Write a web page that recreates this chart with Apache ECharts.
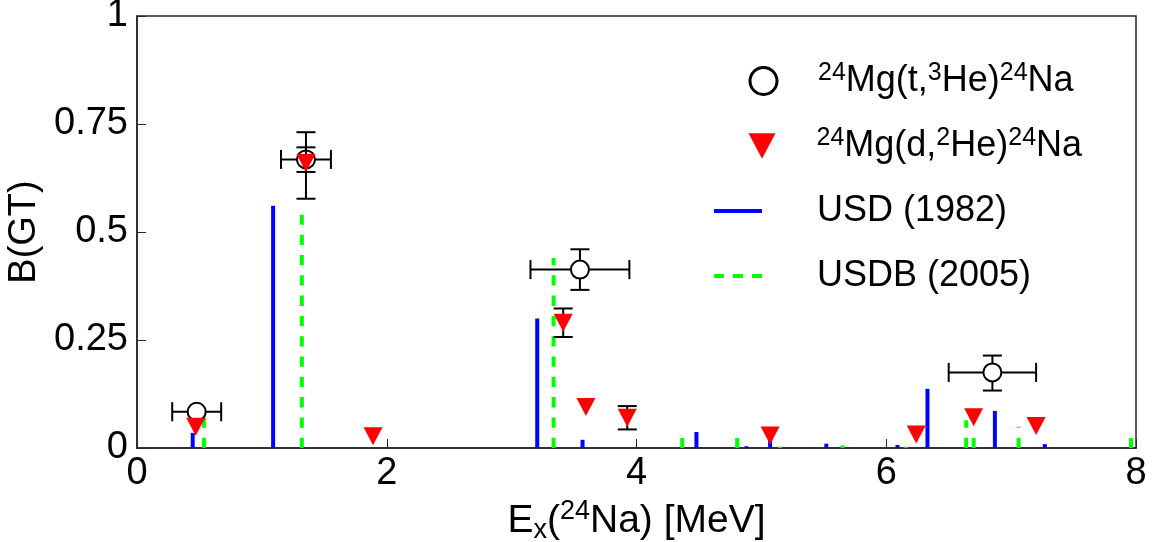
<!DOCTYPE html>
<html>
<head>
<meta charset="utf-8">
<script src="https://cdn.jsdelivr.net/npm/echarts@6/dist/echarts.min.js"></script>
<style>
  html, body { margin: 0; padding: 0; background: #fff; }
  #chart { width: 1162px; height: 542px; }
</style>
</head>
<body>
<div id="chart"></div>
<script>
// USD (1982) shell-model B(GT) sticks
const usdE = [0.446, 1.09, 3.205, 3.568, 4.48, 4.88, 5.07, 5.52, 6.09, 6.33, 6.87, 7.27];
const usdB = [0.035, 0.561, 0.300, 0.019, 0.037, 0.004, 0.021, 0.010, 0.007, 0.137, 0.086, 0.009];

// USDB (2005) sticks
const usdbE = [0.536, 1.32, 3.336, 4.366, 4.806, 5.15, 5.65, 6.155, 6.64, 6.70, 7.06, 7.96];
const usdbB = [0.070, 0.540, 0.440, 0.023, 0.023, 0.003, 0.006, 0.003, 0.064, 0.023, 0.049, 0.023];

// 24Mg(t,3He)24Na
const tHeE = [0.478, 1.353, 3.547, 6.85];
const tHeB = [0.084, 0.668, 0.413, 0.175];
const tHeErrE = [0.196, 0.200, 0.396, 0.350];
const tHeErrLo = [0, 0.091, 0.047, 0.042];
const tHeErrHi = [0, 0.063, 0.047, 0.039];

// 24Mg(d,2He)24Na
const dHeE = [0.47, 1.353, 1.89, 3.413, 3.595, 3.926, 5.07, 6.24, 6.70, 7.20];
const dHeB = [0.049, 0.660, 0.027, 0.290, 0.095, 0.070, 0.029, 0.031, 0.071, 0.051];
const dHeErrLo = [0, 0.021, 0, 0.033, 0, 0.027, 0, 0, 0, 0];
const dHeErrHi = [0, 0.036, 0, 0.033, 0, 0.027, 0, 0, 0, 0];

const xTicks = [0, 2, 4, 6, 8];
const yTicks = [0, 0.25, 0.5, 0.75, 1];

const FONT = '"Liberation Sans", Arial, Helvetica, sans-serif';
const AXIS = '#262626';
const DASH = [10.3, 10];

const chart = echarts.init(document.getElementById('chart'));

function stick(color, dash) {
  return function (params, api) {
    const p0 = api.coord([api.value(0), 0]);
    const p1 = api.coord([api.value(0), api.value(1)]);
    return {
      type: 'line',
      shape: { x1: p0[0], y1: p0[1], x2: p1[0], y2: p1[1] },
      style: { stroke: color, lineWidth: 4, lineDash: dash, lineCap: 'butt' }
    };
  };
}

function seg(x1, y1, x2, y2) {
  return {
    type: 'line',
    shape: { x1: x1, y1: y1, x2: x2, y2: y2 },
    style: { stroke: '#000', lineWidth: 2 }
  };
}

// error bars with caps, rows: [x, y, dx, dyLow, dyHigh]
function errorBars(params, api) {
  const x = api.value(0), y = api.value(1), dx = api.value(2);
  const lo = api.value(3), hi = api.value(4);
  const c = api.coord([x, y]);
  const cap = 9.5;
  const kids = [];
  if (dx > 0) {
    const l = api.coord([x - dx, y])[0];
    const r = api.coord([x + dx, y])[0];
    kids.push(seg(l, c[1], r, c[1]), seg(l, c[1] - cap, l, c[1] + cap), seg(r, c[1] - cap, r, c[1] + cap));
  }
  if (lo > 0 || hi > 0) {
    const t = api.coord([x, y + hi])[1];
    const b = api.coord([x, y - lo])[1];
    kids.push(seg(c[0], t, c[0], b), seg(c[0] - cap, t, c[0] + cap, t), seg(c[0] - cap, b, c[0] + cap, b));
  }
  return { type: 'group', children: kids };
}

const legendText = {
  'tHe': '{gap| }{sup|24}Mg(t,{sup|3}He){sup|24}Na',
  'dHe': '{gap| }{sup|24}Mg(d,{sup|2}He){sup|24}Na',
  'USD (1982)': '{gap2| }USD (1982)',
  'USDB (2005)': '{gap2| }USDB (2005)'
};

const legendTextStyle = {
  fontSize: 36,
  lineHeight: 40,
  color: '#000',
  fontFamily: FONT,
  rich: {
    sup: { fontSize: 25, lineHeight: 10, verticalAlign: 'top', fontFamily: FONT, color: '#000' },
    gap: { width: 36 },
    gap2: { width: 50 }
  }
};

function legendRow(name, left, centerY, w, h, icon, itemStyle) {
  return {
    data: [{ name: name, icon: icon }],
    left: left,
    top: centerY - 20,
    padding: 0,
    itemWidth: w,
    itemHeight: h,
    selectedMode: false,
    formatter: n => legendText[n],
    textStyle: legendTextStyle,
    itemStyle: itemStyle
  };
}

const option = {
  animation: false,
  backgroundColor: '#fff',
  textStyle: { fontFamily: FONT },
  grid: {
    left: 137, right: 26, top: 16, bottom: 94,
    outerBoundsMode: 'none',
    containLabel: false,
    show: true, borderColor: AXIS, borderWidth: 1.5, backgroundColor: 'transparent'
  },
  legend: [
    legendRow('tHe', 748.5, 81, 27, 27, 'circle',
      { color: '#fff', borderColor: '#000', borderWidth: 3 }),
    legendRow('dHe', 748.5, 146, 27, 27, 'path://M0,0L20,0L10,19Z',
      { color: '#ff0000', borderWidth: 0 }),
    legendRow('USD (1982)', 714, 211, 48, 4, 'rect',
      { color: '#0000ff', borderWidth: 0 }),
    legendRow('USDB (2005)', 714, 276, 48, 4, 'path://M0,0h10v4h-10z M19,0h10v4h-10z M38,0h10v4h-10z',
      { color: '#00ff00', borderWidth: 0 })
  ],
  xAxis: {
    type: 'value',
    min: xTicks[0],
    max: xTicks[xTicks.length - 1],
    interval: xTicks[1] - xTicks[0],
    axisLine: { show: true, onZero: false, lineStyle: { color: AXIS, width: 1.5 } },
    axisTick: { show: true, inside: true, length: 9, lineStyle: { color: AXIS, width: 1 } },
    axisLabel: { fontSize: 38, color: '#000', margin: 7, fontFamily: FONT },
    splitLine: { show: false },
    name: 'E{sub|x}({sup|24}Na) [MeV]',
    nameLocation: 'middle',
    nameGap: 40,
    nameTextStyle: {
      fontSize: 39, lineHeight: 46, color: '#000', fontFamily: FONT,
      rich: {
        sup: { fontSize: 27, lineHeight: 14, verticalAlign: 'top', color: '#000', fontFamily: FONT },
        sub: { fontSize: 27, lineHeight: 10, verticalAlign: 'bottom', color: '#000', fontFamily: FONT }
      }
    }
  },
  yAxis: {
    type: 'value',
    min: yTicks[0],
    max: yTicks[yTicks.length - 1],
    interval: yTicks[1] - yTicks[0],
    axisLine: { show: true, onZero: false, lineStyle: { color: AXIS, width: 1.5 } },
    axisTick: { show: true, inside: true, length: 9, lineStyle: { color: AXIS, width: 1 } },
    axisLabel: { fontSize: 38, color: '#000', margin: 9, fontFamily: FONT },
    splitLine: { show: false },
    name: 'B(GT)',
    nameLocation: 'middle',
    nameRotate: 90,
    nameGap: 86,
    nameTextStyle: { fontSize: 38, color: '#000', fontFamily: FONT }
  },
  series: [
    {
      name: 'USD (1982)',
      type: 'custom',
      z: 1,
      itemStyle: { color: '#0000ff' },
      encode: { x: 0, y: 1 },
      renderItem: stick('#0000ff', null),
      data: usdE.map((e, i) => [e, usdB[i]])
    },
    {
      name: 'USDB (2005)',
      type: 'custom',
      z: 1,
      itemStyle: { color: '#00ff00' },
      encode: { x: 0, y: 1 },
      renderItem: stick('#00ff00', DASH),
      data: usdbE.map((e, i) => [e, usdbB[i]])
    },
    {
      name: 'tHe-err',
      type: 'custom',
      z: 2,
      encode: { x: 0, y: 1 },
      renderItem: errorBars,
      data: tHeE.map((e, i) => [e, tHeB[i], tHeErrE[i], tHeErrLo[i], tHeErrHi[i]])
    },
    {
      name: 'tHe',
      type: 'scatter',
      z: 3,
      symbol: 'circle',
      symbolSize: 18,
      itemStyle: { color: '#fff', borderColor: '#000', borderWidth: 2, opacity: 1 },
      data: tHeE.map((e, i) => [e, tHeB[i]])
    },
    {
      name: 'dHe-err',
      type: 'custom',
      z: 4,
      encode: { x: 0, y: 1 },
      renderItem: errorBars,
      data: dHeE.map((e, i) => [e, dHeB[i], 0, dHeErrLo[i], dHeErrHi[i]])
    },
    {
      name: 'dHe',
      type: 'scatter',
      z: 5,
      symbol: 'path://M0,0L20,0L10,19Z',
      symbolSize: [19, 18],
      itemStyle: { color: '#ff0000', opacity: 1 },
      data: dHeE.map((e, i) => [e, dHeB[i]])
    }
  ]
};

chart.setOption(option);
</script>
</body>
</html>
